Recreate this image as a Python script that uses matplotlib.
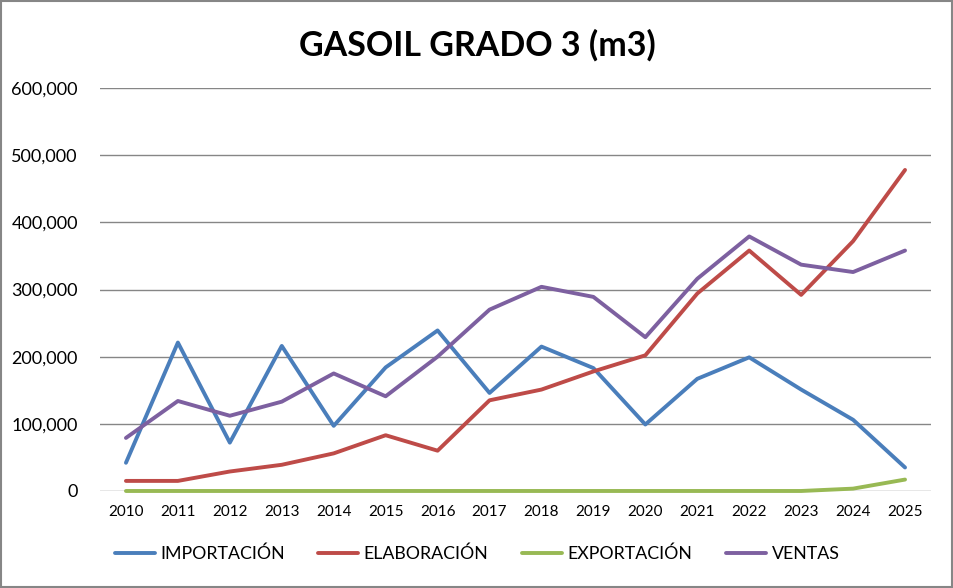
import matplotlib
matplotlib.use("Agg")
import matplotlib.pyplot as plt
from matplotlib.patches import Rectangle
from matplotlib.ticker import FuncFormatter

plt.rcParams['font.family'] = ['Lato', 'DejaVu Sans']

years = list(range(2010, 2026))
importacion = [42000, 221000, 72000, 216000, 97000, 184000, 239000, 146000,
               215000, 183000, 99000, 167000, 199000, 151000, 106000, 35000]
elaboracion = [15000, 15000, 29000, 39000, 56000, 83000, 60000, 135000,
               151000, 178000, 202000, 294000, 358000, 292000, 372000, 478000]
exportacion = [0, 0, 0, 0, 0, 0, 0, 0,
               0, 0, 0, 0, 0, 0, 3500, 17000]
ventas = [79000, 134000, 112000, 133000, 175000, 141000, 200000, 270000,
          304000, 289000, 229000, 316000, 379000, 337000, 326000, 358000]

series = [
    ("IMPORTACIÓN", importacion, "#4A7EBB"),
    ("ELABORACIÓN", elaboracion, "#BE4B48"),
    ("EXPORTACIÓN", exportacion, "#98B954"),
    ("VENTAS", ventas, "#7D60A0"),
]

fig = plt.figure(figsize=(9.54, 5.88), dpi=100)
ax = fig.add_axes([0.1048, 0.165, 0.8711, 0.6853])

x = range(len(years))
for name, vals, col in series:
    ax.plot(x, vals, color=col, lw=2.8, label=name, solid_capstyle='round',
            clip_on=False)

ax.set_xlim(-0.5, len(years) - 0.5)
ax.set_ylim(0, 600000)
ax.set_yticks(range(0, 600001, 100000))
ax.yaxis.set_major_formatter(FuncFormatter(lambda v, p: f"{int(v):,}"))
ax.set_xticks(list(x))
ax.set_xticklabels([str(y) for y in years])
ax.grid(axis='y', color='#868686', lw=1.0)
ax.set_axisbelow(True)
for s in ax.spines.values():
    s.set_visible(False)
ax.tick_params(axis='both', length=0)
ax.tick_params(axis='y', labelsize=13, pad=16)
ax.tick_params(axis='x', labelsize=11, pad=10)

fig.text(0.5, 0.923, "GASOIL GRADO 3 (m3)", ha='center', va='center',
         fontsize=24.5, fontweight='bold')

fig.legend(loc='center', bbox_to_anchor=(0.5, 0.058), ncol=4, frameon=False,
           fontsize=12.8, handlelength=2.25, columnspacing=1.9, handletextpad=0.3)

fig.patches.append(Rectangle((0.001, 0.001), 0.997, 0.997, transform=fig.transFigure,
                             fill=False, edgecolor='#868686', lw=1.5))

fig.savefig("out.png", dpi=100)
